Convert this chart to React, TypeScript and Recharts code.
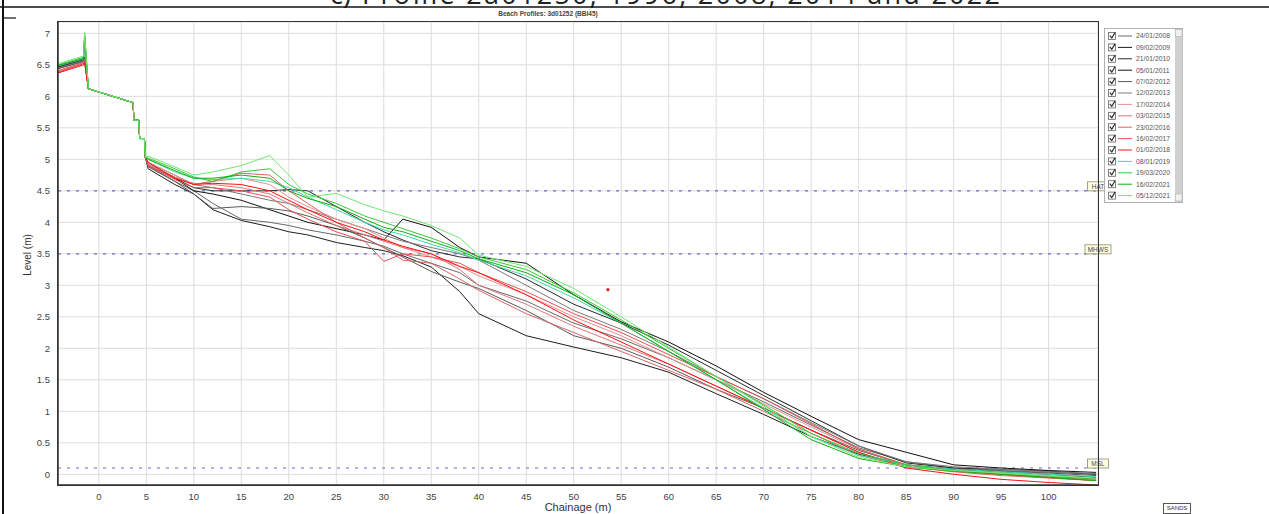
import React from 'react';
import { ComposedChart, Line, Scatter, XAxis, YAxis, CartesianGrid, ReferenceLine } from 'recharts';

// chainage (m) shared by every survey
const CHAINAGE = [
  -4.3, -1.6, -1.5, -1.1, 3.6, 3.7, 4.2, 4.3, 4.8, 4.9,
  5.2, 8, 10, 12, 15, 18, 20, 22, 25, 28, 30, 32, 35, 38, 40, 45, 50, 55, 60, 65, 70, 75, 80, 85, 90, 95, 100, 105,
];

// the sea wall / steps, same for all surveys (chainage -1.1 .. 4.9)
const WALL_LEVELS = [6.12, 5.9, 5.62, 5.62, 5.33, 5.33, 5.03];

const SURVEY_DATES = [
  '24/01/2008', '09/02/2009', '21/01/2010', '05/01/2011', '07/02/2012',
  '12/02/2013', '17/02/2014', '03/02/2015', '23/02/2016', '16/02/2017',
  '01/02/2018', '08/01/2019', '19/03/2020', '16/02/2021', '05/12/2021',
];

const SURVEY_COLORS = [
  '#6a6a6a', '#1e1e1e', '#2c2c2c', '#111111', '#5a5a5a',
  '#7a7a7a', '#e89090', '#e07878', '#d86464', '#e85050',
  '#ff1010', '#40d8b0', '#38c838', '#10b010', '#70e870',
];

// levels at chainage -4.3, -1.6, -1.5 (promenade)
const TOP_LEVELS = [
  [6.44, 6.56, 6.58], [6.46, 6.58, 6.62], [6.45, 6.57, 6.6], [6.47, 6.6, 6.95], [6.44, 6.55, 6.58],
  [6.45, 6.57, 6.6], [6.4, 6.53, 6.56], [6.39, 6.52, 6.55], [6.41, 6.54, 6.57], [6.38, 6.52, 6.55],
  [6.37, 6.5, 6.54], [6.48, 6.6, 6.9], [6.5, 6.62, 6.95], [6.49, 6.6, 7.0], [6.52, 6.64, 7.02],
];

// beach levels from chainage 5.2 to 105
const BEACH_LEVELS = [
  [4.9, 4.65, 4.5, 4.3, 4.05, 4.0, 3.95, 3.88, 3.8, 3.7, 3.62, 3.5, 3.35, 3.2, 3.0, 2.75, 2.4, 2.15, 1.85, 1.5, 1.15, 0.78, 0.42, 0.2, 0.1, 0.06, 0.03, 0.0],
  [4.85, 4.6, 4.45, 4.2, 4.03, 3.93, 3.85, 3.8, 3.68, 3.6, 3.55, 3.47, 3.29, 2.9, 2.55, 2.2, 2.02, 1.85, 1.62, 1.28, 0.95, 0.6, 0.32, 0.15, 0.08, 0.04, 0.0, -0.05],
  [4.95, 4.7, 4.55, 4.5, 4.5, 4.5, 4.52, 4.5, 4.25, 4.0, 3.85, 3.72, 3.55, 3.45, 3.42, 3.1, 2.7, 2.4, 2.05, 1.65, 1.25, 0.85, 0.45, 0.18, 0.1, 0.08, 0.05, 0.0],
  [4.9, 4.7, 4.5, 4.45, 4.35, 4.2, 4.1, 4.0, 3.9, 3.8, 3.72, 4.05, 3.92, 3.6, 3.45, 3.35, 2.85, 2.42, 2.1, 1.72, 1.3, 0.92, 0.55, 0.35, 0.15, 0.1, 0.06, 0.03],
  [4.88, 4.65, 4.45, 4.22, 4.25, 4.22, 4.18, 4.1, 3.95, 3.75, 3.6, 3.45, 3.22, 3.05, 2.95, 2.6, 2.2, 2.0, 1.7, 1.35, 1.05, 0.7, 0.38, 0.15, 0.08, 0.05, 0.02, -0.02],
  [4.95, 4.75, 4.6, 4.55, 4.45, 4.35, 4.3, 4.2, 4.05, 3.9, 3.8, 3.7, 3.6, 3.5, 3.4, 3.0, 2.6, 2.3, 1.95, 1.55, 1.2, 0.82, 0.45, 0.2, 0.12, 0.08, 0.04, 0.01],
  [4.95, 4.75, 4.6, 4.65, 4.7, 4.6, 4.4, 4.25, 4.05, 3.9, 3.75, 3.6, 3.45, 3.3, 3.15, 2.85, 2.5, 2.2, 1.85, 1.5, 1.12, 0.75, 0.4, 0.15, 0.05, 0.0, -0.05, -0.08],
  [4.9, 4.7, 4.62, 4.6, 4.55, 4.45, 4.3, 4.15, 3.95, 3.8, 3.7, 3.6, 3.5, 3.25, 3.0, 2.7, 2.35, 2.05, 1.75, 1.4, 1.05, 0.7, 0.35, 0.12, 0.05, 0.0, -0.04, -0.07],
  [4.92, 4.72, 4.6, 4.65, 4.78, 4.75, 4.5, 4.3, 4.0, 3.75, 3.6, 3.4, 3.35, 3.1, 2.92, 2.55, 2.25, 1.95, 1.65, 1.35, 1.0, 0.65, 0.3, 0.12, 0.04, -0.02, -0.06, -0.1],
  [4.9, 4.68, 4.55, 4.55, 4.5, 4.4, 4.2, 4.05, 3.85, 3.7, 3.38, 3.5, 3.45, 3.35, 3.2, 2.9, 2.55, 2.25, 1.9, 1.55, 1.2, 0.8, 0.4, 0.15, 0.06, 0.0, -0.05, -0.1],
  [4.95, 4.7, 4.6, 4.62, 4.6, 4.5, 4.35, 4.2, 4.0, 3.85, 3.72, 3.62, 3.5, 3.3, 3.2, 2.85, 2.45, 2.1, 1.75, 1.4, 1.05, 0.7, 0.35, 0.1, 0.0, -0.08, -0.13, -0.17],
  [5.0, 4.8, 4.7, 4.68, 4.7, 4.65, 4.55, 4.4, 4.2, 4.0, 3.88, 3.8, 3.65, 3.52, 3.4, 3.15, 2.8, 2.4, 1.95, 1.5, 1.05, 0.6, 0.3, 0.15, 0.08, 0.04, 0.0, -0.04],
  [5.02, 4.85, 4.72, 4.65, 4.8, 4.85, 4.6, 4.45, 4.3, 4.1, 4.0, 3.9, 3.75, 3.58, 3.45, 3.25, 2.88, 2.45, 2.0, 1.55, 1.1, 0.65, 0.33, 0.15, 0.06, 0.02, -0.03, -0.08],
  [5.0, 4.82, 4.7, 4.7, 4.75, 4.7, 4.5, 4.38, 4.25, 4.05, 3.92, 3.85, 3.7, 3.55, 3.42, 3.2, 2.85, 2.4, 1.95, 1.5, 1.03, 0.55, 0.25, 0.12, 0.05, 0.0, -0.05, -0.1],
  [5.05, 4.88, 4.75, 4.8, 4.9, 5.06, 4.75, 4.4, 4.46, 4.28, 4.18, 4.1, 3.95, 3.75, 3.48, 3.3, 2.95, 2.5, 2.02, 1.55, 1.08, 0.6, 0.27, 0.12, 0.06, 0.02, -0.02, -0.06],
];

const STRAY_POINT = [{ x: 53.6, y: 2.93 }];

const TIDE_LEVELS = [
  { name: 'HAT', level: 4.5 },
  { name: 'MHWS', level: 3.5 },
  { name: 'MSL', level: 0.1 },
];

const X_TICKS = [0, 5, 10, 15, 20, 25, 30, 35, 40, 45, 50, 55, 60, 65, 70, 75, 80, 85, 90, 95, 100];
const Y_TICKS = [0, 0.5, 1, 1.5, 2, 2.5, 3, 3.5, 4, 4.5, 5, 5.5, 6, 6.5, 7];

const FONT = '"Liberation Sans", Arial, sans-serif';

const profiles = SURVEY_DATES.map((date, i) => {
  const levels = [...TOP_LEVELS[i], ...WALL_LEVELS, ...BEACH_LEVELS[i]];
  return { date, color: SURVEY_COLORS[i], data: CHAINAGE.map((x, j) => ({ x, y: levels[j] })) };
});

const TideTag = (props: any) => {
  const { viewBox, text } = props;
  const right = viewBox.x + viewBox.width;
  const y = viewBox.y;
  const w = text.length * 5 + 6;
  return (
    <g>
      <rect x={right - w / 2} y={y - 9} width={w} height={9} fill="#ffffe4" stroke="#8a8a6a" strokeWidth={0.8} />
      <text x={right} y={y - 2.2} textAnchor="middle" fontSize={6.5} fill="#444" fontFamily={FONT}>
        {text}
      </text>
    </g>
  );
};

const Legend = () => (
  <svg width={80} height={176} style={{ position: 'absolute', left: 1104, top: 28 }}>
    <rect x={0.5} y={0.5} width={78} height={174} fill="#fff" stroke="#b0b0b0" />
    <rect x={71} y={1} width={7.5} height={173} fill="#d0d0d0" />
    <rect x={71.5} y={1.5} width={6.5} height={7} fill="#f0f0f0" stroke="#aaa" strokeWidth={0.5} />
    <rect x={71.5} y={166} width={6.5} height={7} fill="#f0f0f0" stroke="#aaa" strokeWidth={0.5} />
    {profiles.map((p, i) => {
      const cy = 8 + i * 11.4;
      return (
        <g key={p.date}>
          <rect x={4.5} y={cy - 3.5} width={7} height={7} fill="#fff" stroke="#666" strokeWidth={0.8} />
          <path d={`M5.8 ${cy - 0.5} L7.8 ${cy + 2} L11 ${cy - 3.5}`} fill="none" stroke="#222" strokeWidth={1.1} />
          <line x1={14} x2={28} y1={cy} y2={cy} stroke={p.color} strokeWidth={1} />
          <text x={32} y={cy + 2.4} fontSize={6.8} fill="#555" fontFamily={FONT}>
            {p.date}
          </text>
        </g>
      );
    })}
  </svg>
);

const App = () => {
  return (
    <div style={{ position: 'absolute', left: 0, top: 0, width: 1269, height: 514, background: '#fff', overflow: 'hidden', fontFamily: FONT }}>
      <svg width={1269} height={30} style={{ position: 'absolute', left: 0, top: 0 }}>
        <text x={330} y={4} fontSize={27} fill="#222" fontFamily='"Open Sans", sans-serif'>
          c)
        </text>
        <text x={362} y={4} fontSize={27} fill="#222" fontFamily='"Open Sans", sans-serif' textLength={638} lengthAdjust="spacing">
          Profile 2a01250, 1996, 2008, 2014 and 2022
        </text>
        <line x1={0} x2={1269} y1={7} y2={7} stroke="#111" strokeWidth={1.6} />
        <line x1={4} x2={16} y1={18} y2={18} stroke="#111" strokeWidth={1.2} />
        <text x={548} y={16} textAnchor="middle" fontSize={6.5} fontWeight="bold" fill="#444" fontFamily={FONT}>
          Beach Profiles: 3d01252 (BBI45)
        </text>
      </svg>
      <div style={{ position: 'absolute', left: 2, top: 0, width: 2, height: 514, background: '#111' }} />

      <div style={{ position: 'absolute', left: 0, top: 0 }}>
        <ComposedChart width={1269} height={514} margin={{ top: 22, right: 171, bottom: 9, left: 18 }}>
          <CartesianGrid stroke="#dcdcdc" strokeWidth={1} />
          <XAxis
            dataKey="x"
            type="number"
            domain={[-4.3, 105.2]}
            ticks={X_TICKS}
            allowDataOverflow
            height={20}
            tickLine={false}
            axisLine={{ stroke: '#333', strokeWidth: 1.5 }}
            tick={{ fontSize: 9.5, fill: '#444', fontFamily: FONT }}
            interval={0}
          />
          <YAxis
            type="number"
            domain={[-0.17, 7.18]}
            ticks={Y_TICKS}
            allowDataOverflow
            width={40}
            tickLine={false}
            axisLine={{ stroke: '#333', strokeWidth: 1.5 }}
            tick={{ fontSize: 9.5, fill: '#444', fontFamily: FONT }}
            interval={0}
          />
          {TIDE_LEVELS.map((t) => (
            <ReferenceLine
              key={t.name}
              y={t.level}
              stroke="#6a6ad8"
              strokeWidth={1.2}
              strokeDasharray="3 6"
              label={<TideTag text={t.name} />}
            />
          ))}
          {profiles.map((p) => (
            <Line
              key={p.date}
              data={p.data}
              dataKey="y"
              type="linear"
              stroke={p.color}
              strokeWidth={1}
              dot={false}
              activeDot={false}
              isAnimationActive={false}
            />
          ))}
          <Scatter data={STRAY_POINT} dataKey="y" fill="#e02020" shape={(props: any) => <circle cx={props.cx} cy={props.cy} r={1.6} fill="#e02020" />} isAnimationActive={false} />
        </ComposedChart>
      </div>

      <div style={{ position: 'absolute', left: 57, top: 21, width: 1040, height: 463, border: '1.5px solid #333', pointerEvents: 'none' }} />

      <div style={{ position: 'absolute', left: 578, top: 501, transform: 'translateX(-50%)', fontSize: 11, color: '#333', whiteSpace: 'nowrap' }}>
        Chainage (m)
      </div>
      <div style={{ position: 'absolute', left: 27, top: 255, transform: 'translate(-50%, -50%) rotate(-90deg)', fontSize: 10, color: '#333', whiteSpace: 'nowrap' }}>
        Level (m)
      </div>

      <Legend />

      <div style={{ position: 'absolute', left: 1163, top: 503, width: 26, height: 9, border: '1px solid #555', fontSize: 6, lineHeight: '9px', textAlign: 'center', color: '#333', background: '#fff' }}>
        SANDS
      </div>
    </div>
  );
};

export default App;
